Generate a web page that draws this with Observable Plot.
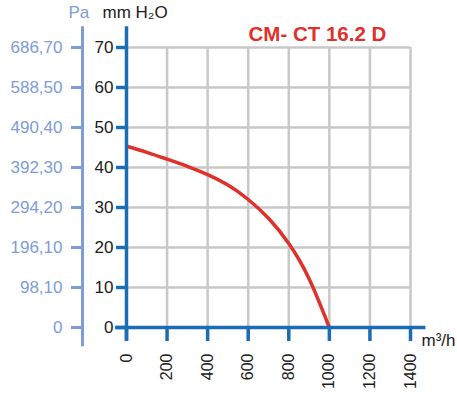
<!DOCTYPE html>
<html><head><meta charset="utf-8">
<script src="https://cdn.jsdelivr.net/npm/d3@7"></script>
<script src="https://cdn.jsdelivr.net/npm/@observablehq/plot@0.6"></script>
<style>
html,body{margin:0;padding:0;background:#fff;}
#chart{width:457px;height:396px;overflow:hidden;}
</style>
</head><body><div id="chart"></div>
<script>
// Data
const flow = [0, 100, 200, 300, 400, 500, 600, 700, 800, 900, 1000];
const pressure = [45.3, 43.8, 42.1, 40.3, 38.2, 35.6, 32.0, 27.3, 21.0, 12.2, 0];
const xTicks = [0, 200, 400, 600, 800, 1000, 1200, 1400];
const yTicks = [0, 10, 20, 30, 40, 50, 60, 70];
const paLabels = ["0", "98,10", "196,10", "294,20", "392,30", "490,40", "588,50", "686,70"];
const titleText = "CM- CT 16.2 D";
const yUnit = "mm H₂O";
const paUnit = "Pa";
const xUnit = "m³/h";
// axis-line extents (in data units)
const xAxisExtent = [-54, 1476];
const yAxisExtent = [-3.4, 75.2];
const paAxisExtent = [-4.8, 75.2];

const blue = "#1a6db5";
const paBlue = "#7d9cd8";
const red = "#e0302a";
const grid = "#c8c8c8";
const font = "'Liberation Sans', Arial, Helvetica, sans-serif";

const data = flow.map((f, i) => ({flow: f, p: pressure[i]}));

const chart = Plot.plot({
  width: 457,
  height: 396,
  marginLeft: 126,
  marginRight: 47,
  marginTop: 47,
  marginBottom: 69,
  style: {fontFamily: font, background: "transparent", overflow: "visible"},
  x: {domain: [0, 1400], axis: null},
  y: {domain: [0, 70], axis: null},
  marks: [
    // grid
    Plot.ruleX(xTicks.slice(1), {y1: 0, y2: 70, stroke: grid, strokeWidth: 2.5}),
    Plot.ruleY(yTicks.slice(1), {x1: 0, x2: 1400, stroke: grid, strokeWidth: 2.5}),
    // curve
    Plot.line(data, {x: "flow", y: "p", stroke: red, strokeWidth: 3.5, curve: "natural"}),
    // Pa axis
    Plot.ruleX([0], {y1: paAxisExtent[0], y2: paAxisExtent[1], stroke: paBlue, strokeWidth: 3, dx: -44}),
    Plot.axisY(yTicks, {anchor: "left", label: null, dx: -44, tickSize: 11, tickPadding: 9, stroke: paBlue, fill: paBlue, strokeWidth: 3, fontSize: 17, tickFormat: (d, i) => paLabels[i]}),
    // mm H2O axis
    Plot.ruleX([0], {y1: yAxisExtent[0], y2: yAxisExtent[1], stroke: blue, strokeWidth: 3.5}),
    Plot.axisY(yTicks, {anchor: "left", label: null, tickSize: 10, tickPadding: 3, stroke: blue, fill: "#1a1a1a", strokeWidth: 3.5, fontSize: 17, tickFormat: d => String(d)}),
    // x axis
    Plot.ruleY([0], {x1: xAxisExtent[0], x2: xAxisExtent[1], stroke: blue, strokeWidth: 3.5}),
    Plot.axisX(xTicks, {anchor: "bottom", label: null, tickSize: 14, tickPadding: 12, tickRotate: -90, stroke: blue, fill: "#1a1a1a", strokeWidth: 3.5, fontSize: 16, tickFormat: d => String(d)}),
    // labels
    Plot.text([paUnit], {frameAnchor: "top-left", dx: -58, dy: -30, lineAnchor: "bottom", textAnchor: "start", fill: paBlue, fontSize: 17}),
    Plot.text([yUnit], {frameAnchor: "top-left", dx: -24, dy: -30, lineAnchor: "bottom", textAnchor: "start", fill: "#1a1a1a", fontSize: 17}),
    Plot.text([titleText], {frameAnchor: "top-left", dx: 122, dy: -7, lineAnchor: "bottom", textAnchor: "start", fill: red, fontSize: 20.5, fontWeight: "bold"}),
    Plot.text([xUnit], {frameAnchor: "bottom-right", dx: 11, dy: 18, lineAnchor: "bottom", textAnchor: "start", fill: "#1a1a1a", fontSize: 17})
  ]
});
document.getElementById("chart").appendChild(chart);
</script>
</body></html>
